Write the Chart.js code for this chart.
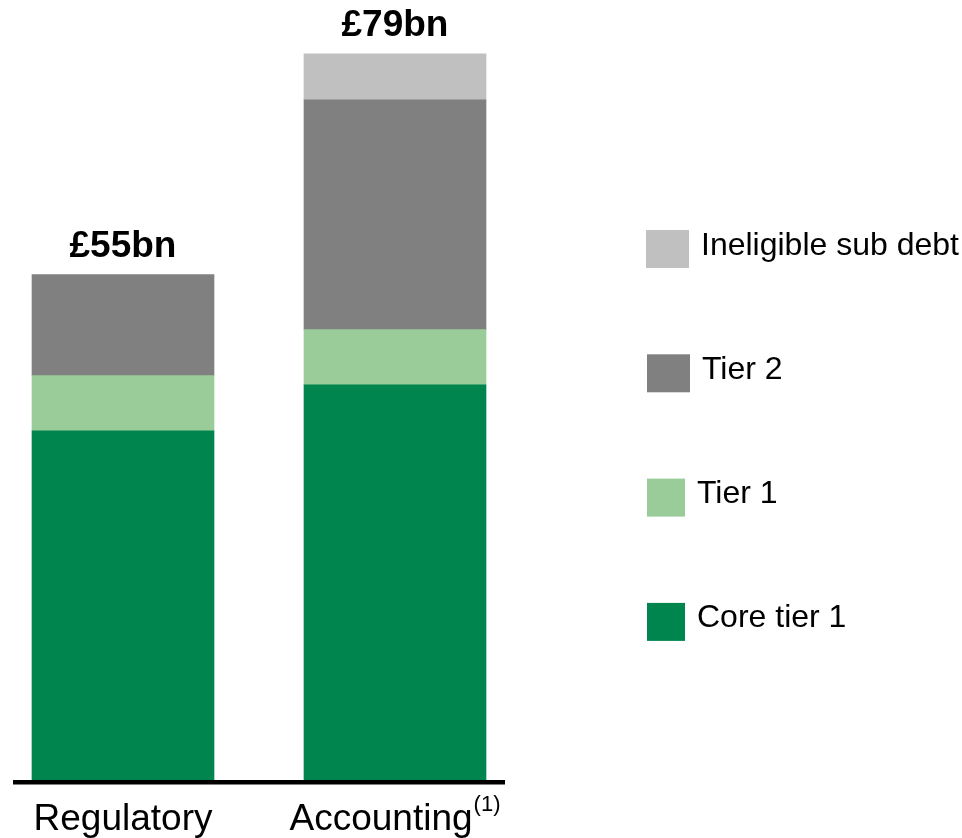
<!DOCTYPE html>
<html>
<head>
<meta charset="utf-8">
<title>Capital base</title>
<script src="https://cdn.jsdelivr.net/npm/chart.js@4/dist/chart.umd.min.js"></script>
<style>
  html, body { margin: 0; padding: 0; background: #fff; overflow: hidden; }
  canvas { display: block; }
</style>
</head>
<body>
<canvas id="chart" width="962" height="838"></canvas>
<script>
// data (£bn)
const categories = ["Regulatory", "Accounting"];
const categoryNotes = ["", "(1)"];
const coreTier1 = [38, 43];
const tier1 = [6, 6];
const tier2 = [11, 25];
const ineligibleSubDebt = [null, 5];
const seriesNames = ["Core tier 1", "Tier 1", "Tier 2", "Ineligible sub debt"];
const seriesColors = ["#00854f", "#99cc99", "#808080", "#c0c0c0"];

const FONT = '"Liberation Sans", Arial, sans-serif';

function total(i) {
    let sum = 0;
    for (const arr of [coreTier1, tier1, tier2, ineligibleSubDebt]) sum += arr[i] || 0;
    return sum;
}

// totals above bars + category labels under the axis line
const barLabels = {
    id: 'barLabels',
    afterDatasetsDraw(chart) {
        const ctx = chart.ctx;
        const x = chart.scales.x, y = chart.scales.y;
        ctx.save();
        ctx.fillStyle = '#000';
        ctx.textBaseline = 'alphabetic';

        // axis line, reaching past both bars
        const left = x.getPixelForValue(0) - 110;
        const right = x.getPixelForValue(categories.length - 1) + 110;
        ctx.fillRect(left, chart.chartArea.bottom, right - left, 4.5);

        categories.forEach(function (cat, i) {
            const cx = x.getPixelForValue(i);
            const top = y.getPixelForValue(total(i));
            ctx.font = 'bold 37px ' + FONT;
            ctx.textAlign = 'center';
            ctx.fillText('£' + total(i) + 'bn', cx, top - 17.5);

            // label with optional superscript note
            const base = chart.chartArea.bottom + 50;
            ctx.font = '37px ' + FONT;
            const w1 = ctx.measureText(cat).width;
            ctx.font = '22px ' + FONT;
            const note = categoryNotes[i];
            const w2 = note ? ctx.measureText(note).width + 1 : 0;
            const start = cx - (w1 + w2) / 2;
            ctx.textAlign = 'left';
            ctx.font = '37px ' + FONT;
            ctx.fillText(cat, start, base);
            if (note) {
                ctx.font = '22px ' + FONT;
                ctx.fillText(note, start + w1 + 1, base - 19);
            }
        });
        ctx.restore();
    }
};

// legend on the right, top entry = top of the stack
const sideLegend = {
    id: 'sideLegend',
    afterDraw(chart) {
        const ctx = chart.ctx;
        const boxW = [43, 43, 38, 38];
        ctx.save();
        ctx.font = '32px ' + FONT;
        ctx.textAlign = 'left';
        ctx.textBaseline = 'alphabetic';
        const items = chart.data.datasets.slice().reverse();
        items.forEach(function (ds, k) {
            const bx = k === 0 ? 646 : 647;
            const by = 230 + k * 124.3;
            ctx.fillStyle = ds.backgroundColor;
            ctx.fillRect(bx, by, boxW[k], 38);
            ctx.fillStyle = '#000';
            ctx.fillText(ds.label, bx + boxW[k] + 12, by + 24.5);
        });
        ctx.restore();
    }
};

const seriesData = [coreTier1, tier1, tier2, ineligibleSubDebt];
const datasets = seriesData.map(function (values, k) {
    return {
        label: seriesNames[k],
        data: values,
        backgroundColor: seriesColors[k],
        borderWidth: 0,
        barThickness: 182,
        clip: false
    };
});

const ctx = document.getElementById('chart');
const chart = new Chart(ctx, {
    type: 'bar',
    data: { labels: categories, datasets: datasets },
    options: {
        responsive: false,
        animation: false,
        layout: { padding: { left: 123, right: 567, top: 8, bottom: 58 } },
        plugins: {
            legend: { display: false },
            tooltip: { enabled: false }
        },
        scales: {
            x: { stacked: true, offset: false, display: false },
            y: { stacked: true, min: 0, max: 84, display: false }
        }
    },
    plugins: [barLabels, sideLegend]
});
</script>
</body>
</html>
